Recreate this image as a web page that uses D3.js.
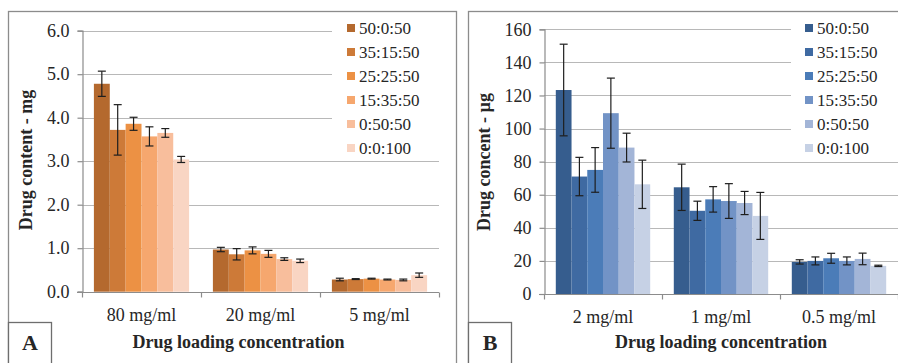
<!DOCTYPE html>
<html>
<head>
<meta charset="utf-8">
<script src="https://cdn.jsdelivr.net/npm/d3@7"></script>
<style>
  html, body { margin: 0; padding: 0; background: #fff; }
  svg { display: block; }
  text { font-family: "Liberation Serif", "Times New Roman", serif; fill: #262626; }
</style>
</head>
<body>
<svg id="chart" width="898" height="363"></svg>
<script>
// Polymer blend ratios (series)
const ratios = ["50:0:50", "35:15:50", "25:25:50", "15:35:50", "0:50:50", "0:0:100"];

// Panel A: drug content (mg) by loading concentration
const catsA = ["80 mg/ml", "20 mg/ml", "5 mg/ml"];
const meanA = [
  [4.78, 3.72, 3.86, 3.57, 3.65, 3.04],
  [0.97, 0.86, 0.95, 0.87, 0.75, 0.71],
  [0.28, 0.29, 0.30, 0.28, 0.27, 0.38]
];
const errA = [
  [0.29, 0.58, 0.15, 0.22, 0.10, 0.07],
  [0.05, 0.13, 0.08, 0.08, 0.03, 0.04],
  [0.03, 0.01, 0.01, 0.01, 0.02, 0.05]
];
const ticksA = [0, 1, 2, 3, 4, 5, 6];
const colorsA = ["#b4692e", "#cd7a38", "#ec9144", "#f6a76e", "#f8be9c", "#f9d5c3"];

// Panel B: drug content (µg) by loading concentration
const catsB = ["2 mg/ml", "1 mg/ml", "0.5 mg/ml"];
const meanB = [
  [123.3, 71.0, 75.0, 109.3, 88.5, 66.3],
  [64.5, 50.3, 57.2, 56.2, 55.0, 47.2],
  [19.4, 20.0, 21.6, 20.0, 21.2, 17.0]
];
const errB = [
  [27.7, 11.6, 13.5, 21.2, 8.7, 14.6],
  [14.0, 5.8, 7.7, 10.5, 7.0, 14.2],
  [1.3, 2.4, 3.0, 2.4, 3.5, 0.4]
];
const ticksB = [0, 20, 40, 60, 80, 100, 120, 140, 160];
const colorsB = ["#365d8e", "#3f6aa2", "#4b7cb8", "#7293c6", "#a3b5d7", "#c6d1e5"];

const svg = d3.select("#chart");

function panel(cfg) {
  const g = svg.append("g");

  // outer frame of the panel
  g.append("rect")
    .attr("x", cfg.frame[0] + 0.5).attr("y", cfg.frame[1] + 0.5)
    .attr("width", cfg.frame[2]).attr("height", cfg.frame[3])
    .attr("fill", "none").attr("stroke", "#8c8c8c").attr("stroke-width", 1.3);

  const y = d3.scaleLinear().domain(cfg.domain).range([cfg.bottom, cfg.top]);
  const x0 = d3.scaleBand().domain(cfg.cats).range([cfg.left, cfg.right]).padding(0);
  const step = x0.step();
  const x1 = d3.scaleBand().domain(ratios)
    .range([step * 0.1, step * 0.9]).padding(0);

  // horizontal gridlines
  g.append("g").selectAll("line").data(cfg.ticks.slice(1)).join("line")
    .attr("x1", cfg.left).attr("x2", cfg.right)
    .attr("y1", d => Math.round(y(d)) + 0.5).attr("y2", d => Math.round(y(d)) + 0.5)
    .attr("stroke", "#b8b8b8").attr("stroke-width", 1.2);

  // legend backdrop hides the gridlines beneath it
  g.append("rect")
    .attr("x", cfg.legendBox[0]).attr("y", cfg.legendBox[1])
    .attr("width", cfg.legendBox[2]).attr("height", cfg.legendBox[3])
    .attr("fill", "#fff");

  // bars
  const groups = g.append("g").selectAll("g").data(cfg.cats).join("g")
    .attr("transform", d => `translate(${x0(d)},0)`);
  groups.selectAll("rect")
    .data((c, i) => ratios.map((r, j) => ({ r, j, v: cfg.mean[i][j], e: cfg.err[i][j] })))
    .join("rect")
    .attr("x", d => x1(d.r)).attr("width", x1.bandwidth())
    .attr("y", d => y(d.v)).attr("height", d => y(0) - y(d.v))
    .attr("fill", d => cfg.colors[d.j]);

  // error bars
  const eb = groups.selectAll("g.err")
    .data((c, i) => ratios.map((r, j) => ({ r, v: cfg.mean[i][j], e: cfg.err[i][j] })))
    .join("g").attr("class", "err")
    .attr("transform", d => `translate(${x1(d.r) + x1.bandwidth() / 2},0)`)
    .attr("stroke", "#1e1e1e").attr("stroke-width", 1.2);
  eb.append("line").attr("x1", 0).attr("x2", 0)
    .attr("y1", d => y(d.v + d.e)).attr("y2", d => y(d.v - d.e));
  eb.append("line").attr("x1", -4).attr("x2", 4)
    .attr("y1", d => y(d.v + d.e)).attr("y2", d => y(d.v + d.e));
  eb.append("line").attr("x1", -4).attr("x2", 4)
    .attr("y1", d => y(d.v - d.e)).attr("y2", d => y(d.v - d.e));

  // y axis
  const yAxis = g.append("g")
    .attr("transform", `translate(${cfg.left + 0.5},0)`)
    .call(d3.axisLeft(y).tickValues(cfg.ticks).tickFormat(cfg.fmt).tickSize(5).tickPadding(8));
  yAxis.select(".domain").attr("stroke", "#8c8c8c").attr("stroke-width", 1.2);
  yAxis.selectAll(".tick line").attr("stroke", "#8c8c8c").attr("stroke-width", 1.2);
  yAxis.selectAll(".tick text")
    .attr("font-family", "Liberation Serif").attr("font-size", 18).attr("fill", "#262626");

  // x axis with category dividers
  const xAxis = g.append("g").attr("transform", `translate(0,${Math.round(y(0)) + 0.5})`);
  xAxis.append("line").attr("x1", cfg.left - 5).attr("x2", cfg.right)
    .attr("stroke", "#8c8c8c").attr("stroke-width", 1.2);
  const edges = cfg.cats.map(c => x0(c)).concat([cfg.right]);
  xAxis.selectAll("line.tk").data(edges).join("line").attr("class", "tk")
    .attr("x1", d => Math.round(d) + 0.5).attr("x2", d => Math.round(d) + 0.5)
    .attr("y1", 0).attr("y2", 5)
    .attr("stroke", "#8c8c8c").attr("stroke-width", 1.2);
  xAxis.selectAll("text").data(cfg.cats).join("text")
    .attr("x", d => x0(d) + step / 2).attr("y", 28)
    .attr("text-anchor", "middle").attr("font-size", 18)
    .text(d => d);

  // axis titles
  g.append("text")
    .attr("x", (cfg.left + cfg.right) / 2 + cfg.xTitleShift).attr("y", 348)
    .attr("text-anchor", "middle").attr("font-size", 18).attr("font-weight", "bold")
    .attr("fill", "#000")
    .text("Drug loading concentration");
  g.append("text")
    .attr("transform", `translate(${cfg.yTitleX},${cfg.yTitleY}) rotate(-90)`)
    .attr("text-anchor", "middle").attr("font-size", 18).attr("font-weight", "bold")
    .attr("fill", "#000")
    .text(cfg.yTitle);

  // legend
  const lg = g.append("g").selectAll("g").data(ratios).join("g")
    .attr("transform", (d, i) => `translate(${cfg.legendX},${28 + i * 24})`);
  lg.append("rect").attr("x", 0).attr("y", -4).attr("width", 8).attr("height", 8)
    .attr("fill", (d, i) => cfg.colors[i]);
  lg.append("text").attr("x", 12).attr("y", 6).attr("font-size", 17).text(d => d);

  // panel letter box
  g.append("rect")
    .attr("x", cfg.frame[0] + 0.5).attr("y", 322.5).attr("width", 43).attr("height", 50)
    .attr("fill", "#fff").attr("stroke", "#6e6e6e").attr("stroke-width", 1.3);
  g.append("text")
    .attr("x", cfg.frame[0] + 22).attr("y", 350)
    .attr("text-anchor", "middle").attr("font-size", 22).attr("font-weight", "bold")
    .attr("fill", "#000")
    .text(cfg.letter);
}

panel({
  frame: [8, 11, 448, 360],
  cats: catsA, mean: meanA, err: errA, ticks: ticksA, colors: colorsA,
  domain: [0, 6], fmt: d3.format(".1f"),
  left: 82, right: 439, top: 30.7, bottom: 291.7,
  legendBox: [332, 14, 107, 144], legendX: 347,
  yTitle: "Drug content - mg", yTitleX: 32, yTitleY: 160, xTitleShift: -22,
  letter: "A"
});

panel({
  frame: [468, 11, 440, 360],
  cats: catsB, mean: meanB, err: errB, ticks: ticksB, colors: colorsB,
  domain: [0, 160], fmt: d3.format("d"),
  left: 544, right: 898, top: 29.3, bottom: 294,
  legendBox: [791, 14, 107, 144], legendX: 805,
  yTitle: "Drug concent - \u00b5g", yTitleX: 490, yTitleY: 162, xTitleShift: 0,
  letter: "B"
});
</script>
</body>
</html>
